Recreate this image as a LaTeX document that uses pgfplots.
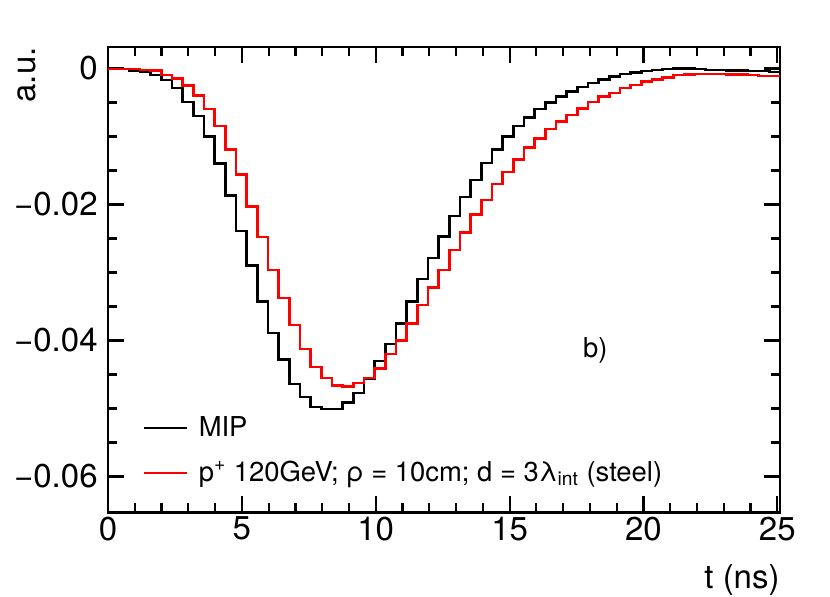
\documentclass[border=0pt]{standalone}
\usepackage{pgfplots}
\pgfplotsset{compat=1.18}
\usepackage{fontspec}
\setmainfont{TeX Gyre Heros}
\newcommand{\ticksize}{\fontsize{16.5}{19}\selectfont}
\newcommand{\legsize}{\fontsize{13.7}{16}\selectfont}
\begin{document}
\begin{tikzpicture}
\begin{axis}[
  name=ax,
  scale only axis,
  width=336pt, height=232.75pt,
  xmin=0, xmax=25.1,
  ymin=-0.0653, ymax=0.00316,
  axis line style={line width=1.1pt},
  every tick/.style={black, line width=1.1pt},
  major tick length=8pt,
  minor tick length=4.5pt,
  xtick={0,5,10,15,20,25},
  xticklabels={0,5,10,15,20,25},
  minor x tick num=4,
  ytick={-0.06,-0.04,-0.02,0},
  yticklabels={−0.06,−0.04,−0.02,0},
  minor y tick num=3,
  xticklabel style={font=\ticksize, anchor=north, inner sep=0pt, yshift=-2pt},
  yticklabel style={font=\ticksize, anchor=east, inner sep=0pt, xshift=-5pt},
  scaled y ticks=false,
  xlabel={t (ns)},
  xlabel style={font=\ticksize, at={(rel axis cs:1,0)}, anchor=base east, inner sep=0pt, yshift=-38pt},
  ylabel={a.u.},
  ylabel style={font=\ticksize, at={(rel axis cs:0,1)}, anchor=south east, inner sep=0pt, yshift=36pt},
  legend cell align=left,
  legend style={draw=none, fill=none, font=\legsize,
    at={(axis description cs:0.0506,0.208)}, anchor=north west,
    inner sep=0pt, row sep=10.5pt, column sep=5.5pt,
    nodes={inner sep=0pt, text height=10pt, text depth=2pt}},
  legend image code/.code={\draw[#1] (0pt,0pt) -- (21.5pt,0pt);},
]
\addplot[const plot mark left, black, line width=1.2pt] coordinates {
(0,-0.0001)(0.398,-0.0001)(0.797,-0.0003)(1.195,-0.0005)(1.594,-0.0010)(1.992,-0.0017)(2.390,-0.0029)(2.789,-0.0049)(3.187,-0.0070)(3.586,-0.0100)(3.984,-0.0140)(4.383,-0.0187)(4.781,-0.0239)(5.179,-0.0290)(5.578,-0.0343)(5.976,-0.0389)(6.375,-0.0428)(6.773,-0.0464)(7.171,-0.0483)(7.570,-0.0498)(7.968,-0.0501)(8.367,-0.0501)(8.765,-0.0491)(9.163,-0.0477)(9.562,-0.0457)(9.960,-0.0430)(10.359,-0.0405)(10.757,-0.0375)(11.156,-0.0343)(11.554,-0.0310)(11.952,-0.0279)(12.351,-0.0247)(12.749,-0.0217)(13.148,-0.0189)(13.546,-0.0164)(13.944,-0.0139)(14.343,-0.0119)(14.741,-0.0100)(15.140,-0.0085)(15.538,-0.0072)(15.937,-0.0060)(16.335,-0.0050)(16.733,-0.0041)(17.132,-0.0034)(17.530,-0.0027)(17.929,-0.0021)(18.327,-0.0016)(18.725,-0.0012)(19.124,-0.0008)(19.522,-0.0006)(19.921,-0.0004)(20.319,-0.0002)(20.717,-0.0001)(21.116,0.0000)(21.514,0.0000)(21.913,-0.0001)(22.311,-0.0002)(22.710,-0.0002)(23.108,-0.0003)(23.506,-0.0003)(23.905,-0.0004)(24.303,-0.0004)(24.702,-0.0005)(25.100,-0.0005)
};
\addlegendentry{MIP}
\addplot[const plot mark left, red, line width=1.2pt] coordinates {
(0,-0.00005)(0.398,-0.0001)(0.797,-0.0001)(1.195,-0.0002)(1.594,-0.0003)(1.992,-0.0010)(2.390,-0.0015)(2.789,-0.0025)(3.187,-0.0040)(3.586,-0.0060)(3.984,-0.0085)(4.383,-0.0119)(4.781,-0.0156)(5.179,-0.0203)(5.578,-0.0248)(5.976,-0.0296)(6.375,-0.0338)(6.773,-0.0377)(7.171,-0.0413)(7.570,-0.0439)(7.968,-0.0455)(8.367,-0.0466)(8.765,-0.0468)(9.163,-0.0463)(9.562,-0.0455)(9.960,-0.0441)(10.359,-0.0420)(10.757,-0.0400)(11.156,-0.0375)(11.554,-0.0348)(11.952,-0.0322)(12.351,-0.0296)(12.749,-0.0267)(13.148,-0.0241)(13.546,-0.0215)(13.944,-0.0193)(14.343,-0.0170)(14.741,-0.0152)(15.140,-0.0134)(15.538,-0.0116)(15.937,-0.0103)(16.335,-0.0089)(16.733,-0.0078)(17.132,-0.0068)(17.530,-0.0059)(17.929,-0.0049)(18.327,-0.0041)(18.725,-0.0036)(19.124,-0.0029)(19.522,-0.0024)(19.921,-0.0019)(20.319,-0.0016)(20.717,-0.0013)(21.116,-0.0010)(21.514,-0.0009)(21.913,-0.0008)(22.311,-0.0008)(22.710,-0.0008)(23.108,-0.0009)(23.506,-0.0009)(23.905,-0.0010)(24.303,-0.0011)(24.702,-0.0011)(25.100,-0.0011)
};
\addlegendentry{p\textsuperscript{+} 120GeV; ρ = 10cm; d = 3λ\textsubscript{int} (steel)}
\node[font=\legsize, inner sep=0pt] at (axis cs:18.2,-0.0414) {b)};
\end{axis}
\pgfresetboundingbox
\path[use as bounding box] (ax.south west) ++(-54pt,-42.25pt) rectangle ++(415pt,298.5pt);
\end{tikzpicture}
\end{document}
